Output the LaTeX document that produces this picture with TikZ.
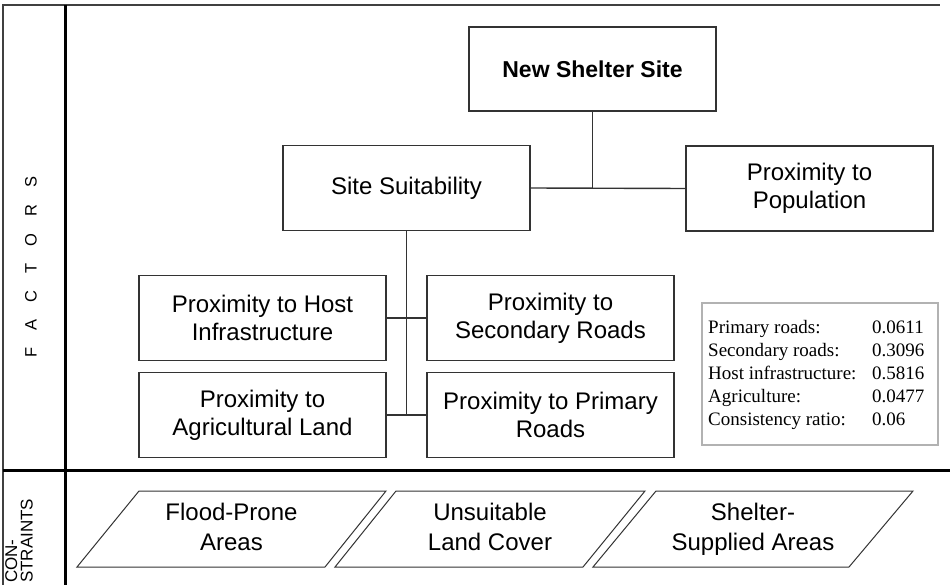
\documentclass[tikz,border=0pt]{standalone}
\usepackage{fontspec}
\setmainfont{Liberation Serif}
\setsansfont{Liberation Sans}
\begin{document}
\begin{tikzpicture}[x=1pt,y=-1pt,
  linec/.style={draw=black!80, line width=1.4pt},
  box/.style={linec, minimum width=247pt, minimum height=85pt, inner sep=0pt,
    align=center, font=\sffamily\fontsize{24}{28}\selectfont},
  conn/.style={linec},
  frame/.style={draw=black!75, line width=1.5pt},
  heavy/.style={draw=black, line width=3pt},
  para/.style={draw=black!80, line width=1pt},
  ptext/.style={inner sep=0pt, align=center, font=\sffamily\fontsize{24}{30}\selectfont},
  wbox/.style={draw=black!30, line width=2.4pt},
  side/.style={inner sep=0pt, rotate=90, font=\sffamily}
]
\useasboundingbox (0,0) rectangle (950,585);
\fill[white] (0,0) rectangle (950,585);

% frame
\draw[frame] (3,585) -- (3,5) -- (940,5);
\draw[heavy] (65,5) -- (65,585);
\draw[heavy] (3,470) -- (950,470);

% side labels
\node[side, font=\sffamily\fontsize{16.5}{18}\selectfont] (factors) at (31,267)
  {F\hspace{17pt}A\hspace{17pt}C\hspace{17pt}T\hspace{17pt}O\hspace{17pt}R\hspace{17pt}S};
\node[side, anchor=west, align=left, font=\sffamily\fontsize{17}{15.5}\selectfont] (constr) at (19,583)
  {CON-\\STRAINTS};

% hierarchy boxes
\node[box, minimum height=84pt, font=\sffamily\bfseries\fontsize{23}{28}\selectfont] (nss) at (592.5,69) {New Shelter Site};
\node[box] (ss) at (406.5,188) {Site Suitability};
\node[box] (pop) at (809.5,188.5) {Proximity to\\Population};
\node[box] (host) at (262.5,318) {Proximity to Host\\Infrastructure};
\node[box] (sec) at (550.5,318) {Proximity to\\Secondary Roads};
\node[box] (agr) at (262.5,415) {Proximity to\\Agricultural Land};
\node[box] (pri) at (550.5,415) {Proximity to Primary\\Roads};

% connectors
\draw[conn] (ss.east) -- (pop.west);
\draw[conn] (nss.south) -- (nss.south |- ss.east);
\draw[conn] (ss.south) -- (ss.south |- agr.east);
\draw[conn] (host.east) -- (sec.west);
\draw[conn] (agr.east) -- (pri.west);

% weights
\draw[wbox] (702,303) rectangle (938,445);
\node[anchor=base west, inner sep=0pt, font=\fontsize{19}{23}\selectfont] (weights) at (708,333.5)
  {\begin{tabular}[t]{@{}p{164pt}@{}l@{}}
   Primary roads: & 0.0611\\
   Secondary roads: & 0.3096\\
   Host infrastructure: & 0.5816\\
   Agriculture: & 0.0477\\
   Consistency ratio: & 0.06
   \end{tabular}};

% constraints
\draw[para] (77,567) -- (139,491) -- (386,491) -- (325,567) -- cycle;
\draw[para] (335,567) -- (396,491) -- (645,491) -- (583,567) -- cycle;
\draw[para] (593,567) -- (656,491) -- (913,491) -- (849,567) -- cycle;
\node[ptext] (flood) at (231.5,529) {\strut Flood-Prone\\\strut Areas};
\node[ptext] (unsuit) at (490,529) {\strut Unsuitable\\\strut Land Cover};
\node[ptext] (supplied) at (753,529) {\strut Shelter-\\\strut Supplied Areas};
\end{tikzpicture}
\end{document}
